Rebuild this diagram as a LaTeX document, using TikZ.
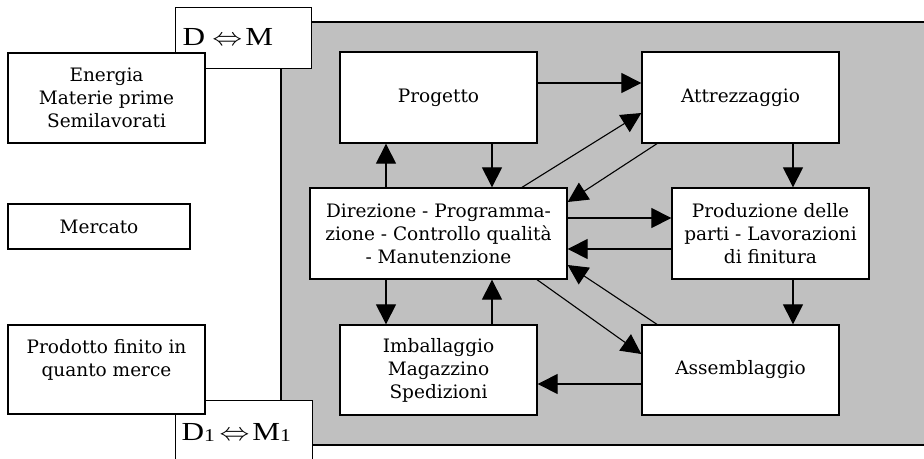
\documentclass[tikz,border=0pt]{standalone}
\usepackage{fontspec}
\setmainfont{DejaVu Serif}
\newfontfamily\dmfont{Liberation Serif}
\usetikzlibrary{arrows.meta,calc}
\definecolor{panel}{RGB}{192,192,192}
\newcommand{\subone}{\raisebox{-1pt}{\fontsize{18}{18}\selectfont 1}}
\begin{document}
\begin{tikzpicture}[x=1pt,y=-1pt,
  box/.style={draw,line width=1.3pt,fill=white,align=center,inner sep=0pt,
    font=\fontsize{18.5}{23}\selectfont},
  big/.style={draw,line width=1pt,fill=white,align=left,inner ysep=0pt,
    font=\dmfont\fontsize{26}{30}\selectfont},
  arr/.style={line width=1.1pt,-{Triangle[length=20pt,width=20pt]}}]
\clip (0,0) rectangle (924,458);
\fill[white] (0,0) rectangle (924,458);
\draw[line width=1.3pt,fill=panel] (281,22) rectangle (940,445);
\node[big,inner xsep=7.5pt,text width=121pt,minimum height=61pt] (dm) at (243,37.5)
  {\scalebox{1.2}[1]{D\hspace{6.2pt}$\Leftrightarrow$\hspace{2.5pt}M}};
\node[big,inner xsep=6.5pt,text width=124pt,minimum height=64pt] (dm1) at (243.5,432)
  {\scalebox{1.2}[1]{D\subone\hspace{4pt}$\Leftrightarrow$\hspace{2.5pt}M\subone}};
\node[box,minimum width=197pt,minimum height=90pt] (ene) at (106.5,98) {Energia\\Materie prime\\Semilavorati};
\node[box,minimum width=182pt,minimum height=45pt] (mer) at (99,226.5) {Mercato};
\node[box,minimum width=197pt,minimum height=89pt] (pro) at (106.5,369.5) {Prodotto finito in\\quanto merce\\~};
\node[box,minimum width=197pt,minimum height=91pt] (prog) at (438.5,97.5) {Progetto};
\node[box,minimum width=197pt,minimum height=91pt] (att) at (740.5,97.5) {Attrezzaggio};
\node[box,minimum width=257pt,minimum height=91pt] (dir) at (438.5,233.5) {Direzione - Programma-\\zione - Controllo qualità\\- Manutenzione};
\node[box,minimum width=197pt,minimum height=91pt] (prod) at (770.5,233.5) {Produzione delle\\parti - Lavorazioni\\di finitura};
\node[box,minimum width=197pt,minimum height=90pt] (imb) at (438.5,370) {Imballaggio\\Magazzino\\Spedizioni};
\node[box,minimum width=197pt,minimum height=90pt] (ass) at (740.5,370) {Assemblaggio};
\draw[arr] ($(prog.east)+(0,-14.5)$) -- ($(att.west)+(0,-14.5)$);
\draw[arr] ($(prog.south)+(53.5,0)$) -- ($(dir.north)+(53.5,0)$);
\draw[arr] ($(dir.north)+(-52.5,0)$) -- ($(prog.south)+(-52.5,0)$);
\draw[arr] ($(dir.north)+(83.5,0)$) -- ($(att.west)+(0,15.5)$);
\draw[arr] ($(att.south)+(-83.5,0)$) -- ($(dir.east)+(0,-31.5)$);
\draw[arr] ($(att.south)+(52.5,0)$) -- ($(prod.north)+(22.5,0)$);
\draw[arr] ($(dir.east)+(0,-15.5)$) -- ($(prod.west)+(0,-15.5)$);
\draw[arr] ($(prod.west)+(0,15.5)$) -- ($(dir.east)+(0,15.5)$);
\draw[arr] ($(prod.south)+(22.5,0)$) -- ($(ass.north)+(52.5,0)$);
\draw[arr] ($(dir.south)+(98.5,0)$) -- ($(ass.west)+(0,-16)$);
\draw[arr] ($(ass.north)+(-83.5,0)$) -- ($(dir.east)+(0,31.5)$);
\draw[arr] ($(dir.south)+(-52.5,0)$) -- ($(imb.north)+(-52.5,0)$);
\draw[arr] ($(imb.north)+(53.5,0)$) -- ($(dir.south)+(53.5,0)$);
\draw[arr] ($(ass.west)+(0,14)$) -- ($(imb.east)+(0,14)$);
\end{tikzpicture}
\end{document}
